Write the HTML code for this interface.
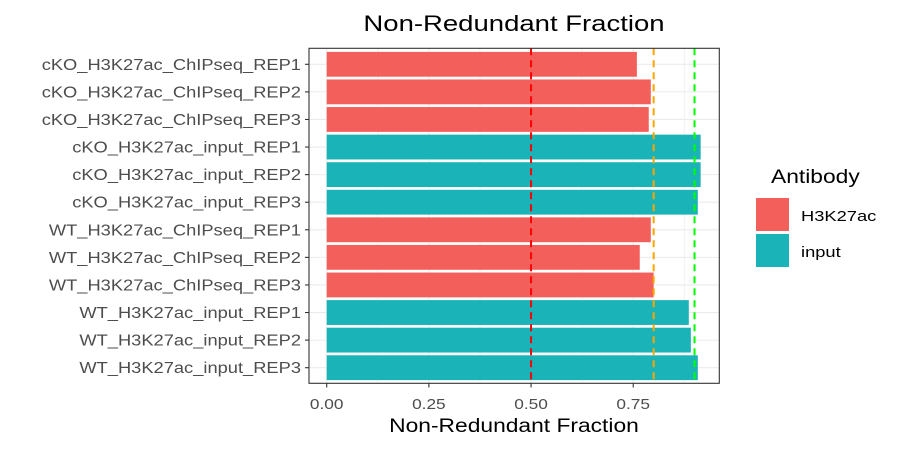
<!DOCTYPE html>
<html><head><meta charset="utf-8"><style>
body{margin:0;background:#fff}
svg{font-family:"Liberation Sans",Arial,sans-serif}
</style></head><body>
<svg id="chart" width="900" height="450" xmlns="http://www.w3.org/2000/svg">
<rect width="900" height="450" fill="#fff"/>
<text class="wide" data-f="1.25" x="514" y="31" font-size="22" text-anchor="middle" fill="#000">Non-Redundant Fraction</text>
<g id="grid"></g>
<g id="bars"></g>
<g id="refs"></g>
<rect x="309" y="48.3" width="410.3" height="335" fill="none" stroke="#333" stroke-width="1.1"/>
<g id="axes"></g>
<text class="wide" data-f="1.2" x="514" y="432" font-size="19" text-anchor="middle" fill="#000">Non-Redundant Fraction</text>
<g>
<text class="wide" data-f="1.2" x="771" y="183" font-size="19" fill="#000">Antibody</text>
<rect x="756" y="198" width="33" height="33" fill="#F3605B"/>
<text class="wide" data-f="1.22" x="801" y="221" font-size="15" fill="#000">H3K27ac</text>
<rect x="756" y="234" width="33" height="33" fill="#19B3B8"/>
<text class="wide" data-f="1.22" x="801" y="257" font-size="15" fill="#000">input</text>
</g>
</svg>
<script>
const categories=["cKO_H3K27ac_ChIPseq_REP1","cKO_H3K27ac_ChIPseq_REP2","cKO_H3K27ac_ChIPseq_REP3","cKO_H3K27ac_input_REP1","cKO_H3K27ac_input_REP2","cKO_H3K27ac_input_REP3","WT_H3K27ac_ChIPseq_REP1","WT_H3K27ac_ChIPseq_REP2","WT_H3K27ac_ChIPseq_REP3","WT_H3K27ac_input_REP1","WT_H3K27ac_input_REP2","WT_H3K27ac_input_REP3"];
const values=[0.759,0.793,0.788,0.915,0.915,0.908,0.793,0.766,0.800,0.886,0.891,0.908];
const groups=["H3K27ac","H3K27ac","H3K27ac","input","input","input","H3K27ac","H3K27ac","H3K27ac","input","input","input"];
const xTicks=[0,0.25,0.5,0.75];
const xTickLabels=["0.00","0.25","0.50","0.75"];
const refValues=[0.5,0.8,0.9];
const refColors=["#FF0000","#FFA500","#00FF00"];
const colors={"H3K27ac":"#F3605B","input":"#19B3B8"};
const NS="http://www.w3.org/2000/svg";
const x=v=>326.7+v*408.7;
const step=(367.7-64.3)/11;
const y=i=>64.3+i*step;
function mk(t,a,p){const e=document.createElementNS(NS,t);for(const k in a)e.setAttribute(k,a[k]);p.appendChild(e);return e;}
const grid=document.getElementById('grid'),bars=document.getElementById('bars'),refs=document.getElementById('refs'),axes=document.getElementById('axes');
[0.125,0.375,0.625,0.875].forEach(v=>{const l=mk('line',{x1:x(v),x2:x(v),y1:48.3,y2:383.3,stroke:'#f0f0f0','stroke-width':1},grid);

});
xTicks.forEach((v,i)=>{const l=mk('line',{x1:x(v),x2:x(v),y1:48.3,y2:383.3,stroke:'#ebebeb','stroke-width':1.1},grid);


const t=mk('line',{x1:x(v),x2:x(v),y1:383.3,y2:387.5,stroke:'#333','stroke-width':1.1},axes);


const tx=mk('text',{x:x(v),y:409,'font-size':15,'text-anchor':'middle',fill:'#4d4d4d',class:'wide','data-f':'1.15'},axes);tx.textContent=xTickLabels[i];

});
categories.forEach((c,i)=>{const l=mk('line',{x1:309,x2:719.3,y1:y(i),y2:y(i),stroke:'#ebebeb','stroke-width':1.1},grid);


const b=mk('rect',{x:x(0),y:y(i)-step*0.45,width:x(values[i])-x(0),height:step*0.9,fill:colors[groups[i]]},bars);


const t=mk('line',{x1:305,x2:309,y1:y(i),y2:y(i),stroke:'#333','stroke-width':1.1},axes);


const tx=mk('text',{x:301,y:y(i)+5.5,'font-size':15.5,'text-anchor':'end',fill:'#4d4d4d',class:'wide','data-f':'1.18'},axes);tx.textContent=c;

});
refValues.forEach((v,i)=>{const l=mk('line',{x1:x(v),x2:x(v),y1:48.3,y2:383.3,stroke:refColors[i],'stroke-width':2,'stroke-dasharray':'7,5'},refs);

});
document.querySelectorAll('text.wide').forEach(t=>{const w=t.getComputedTextLength()*parseFloat(t.getAttribute('data-f'));t.setAttribute('textLength',w);t.setAttribute('lengthAdjust','spacingAndGlyphs');});
</script>
</body></html>
